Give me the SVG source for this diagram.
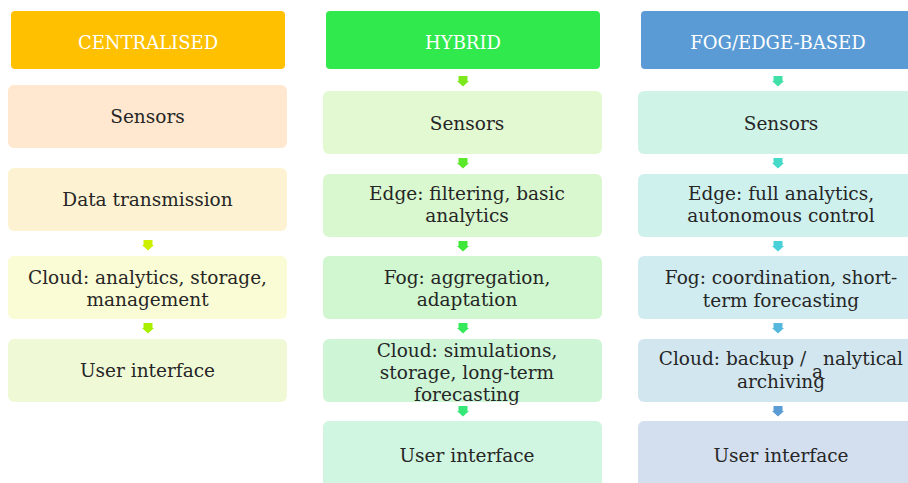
<svg xmlns="http://www.w3.org/2000/svg" xmlns:xlink="http://www.w3.org/1999/xlink" width="908" height="483" viewBox="0 0 908 483">
  <style>
    .hd { font-family: "DejaVu Serif", "Liberation Serif", serif; font-size: 18px; fill: #ffffff; text-anchor: middle; }
    .tx { font-family: "DejaVu Serif", "Liberation Serif", serif; font-size: 18.5px; fill: #262626; text-anchor: middle; }
  </style>
  <defs>
    <!-- small block arrow, tip at (0,10) -->
    <path id="arr" d="M-4.5 0 H4.5 V5 H6 L0 10.5 L-6 5 H-4.5 Z"/>
  </defs>
  <rect width="908" height="483" fill="#ffffff"/>

  <!-- column 1: centralised -->
  <g id="c1-head"><rect x="11" y="11" width="274" height="58" rx="4" fill="#FFC000"/><text class="hd" x="148" y="49">CENTRALISED</text></g>
  <g id="c1-sensors"><rect x="8" y="85" width="279" height="63" rx="6" fill="#FFE8CF"/><text class="tx" x="147.5" y="123">Sensors</text></g>
  <g id="c1-transmission"><rect x="8" y="168" width="279" height="63" rx="6" fill="#FDF3D2"/><text class="tx" x="147.5" y="206">Data transmission</text></g>
  <g id="c1-cloud"><rect x="8" y="256" width="279" height="63" rx="6" fill="#FAFCD5"/><text class="tx" x="147.5" y="284">Cloud: analytics, storage,</text><text class="tx" x="147.5" y="306">management</text></g>
  <g id="c1-ui"><rect x="8" y="339" width="279" height="63" rx="6" fill="#F0F9D5"/><text class="tx" x="147.5" y="377">User interface</text></g>

  <!-- column 2: hybrid -->
  <g id="c2-head"><rect x="326" y="11" width="274" height="58" rx="4" fill="#30E94D"/><text class="hd" x="463" y="49">HYBRID</text></g>
  <g id="c2-sensors"><rect x="323" y="91" width="279" height="63" rx="6" fill="#E3F9D2"/><text class="tx" x="467" y="130">Sensors</text></g>
  <g id="c2-edge"><rect x="323" y="174" width="279" height="63" rx="6" fill="#D9F8CF"/><text class="tx" x="467" y="200">Edge: filtering, basic</text><text class="tx" x="467" y="222">analytics</text></g>
  <g id="c2-fog"><rect x="323" y="256" width="279" height="63" rx="6" fill="#D0F7CF"/><text class="tx" x="467" y="284">Fog: aggregation,</text><text class="tx" x="467" y="306">adaptation</text></g>
  <g id="c2-cloud"><rect x="323" y="339" width="279" height="63" rx="6" fill="#CEF5D6"/><text class="tx" x="467" y="357">Cloud: simulations,</text><text class="tx" x="467" y="379">storage, long-term</text><text class="tx" x="467" y="401">forecasting</text></g>
  <g id="c2-ui"><rect x="323" y="421" width="279" height="70" rx="6" fill="#D0F5E0"/><text class="tx" x="467" y="462">User interface</text></g>

  <!-- column 3: fog/edge-based -->
  <g id="c3-head"><rect x="641" y="11" width="276" height="58" rx="4" fill="#5B9BD5"/><text class="hd" x="778" y="49">FOG/EDGE-BASED</text></g>
  <g id="c3-sensors"><rect x="638" y="91" width="279" height="63" rx="6" fill="#CFF3E6"/><text class="tx" x="781" y="130">Sensors</text></g>
  <g id="c3-edge"><rect x="638" y="174" width="279" height="63" rx="6" fill="#CFF1EE"/><text class="tx" x="781" y="200">Edge: full analytics,</text><text class="tx" x="781" y="222">autonomous control</text></g>
  <g id="c3-fog"><rect x="638" y="256" width="279" height="63" rx="6" fill="#D0ECF0"/><text class="tx" x="781" y="284">Fog: coordination, short-</text><text class="tx" x="781" y="307">term forecasting</text></g>
  <g id="c3-cloud"><rect x="638" y="339" width="279" height="63" rx="6" fill="#D2E6F0"/><text class="tx" x="732.5" y="365">Cloud: backup /</text><text class="tx" x="863" y="365">nalytical</text><text class="tx" x="817.5" y="378">a</text><text class="tx" x="781" y="388">archiving</text></g>
  <g id="c3-ui"><rect x="638" y="421" width="279" height="70" rx="6" fill="#D3DEEF"/><text class="tx" x="781" y="462">User interface</text></g>

  <!-- connectors -->
  <g id="connectors">
    <use xlink:href="#arr" x="148" y="240" fill="#CCF000"/>
    <use xlink:href="#arr" x="148" y="323" fill="#A8F000"/>

    <use xlink:href="#arr" x="463" y="76" fill="#7EE81F"/>
    <use xlink:href="#arr" x="463" y="158" fill="#5CE82A"/>
    <use xlink:href="#arr" x="463" y="241" fill="#3EE83A"/>
    <use xlink:href="#arr" x="463" y="323" fill="#36E95A"/>
    <use xlink:href="#arr" x="463" y="406" fill="#36E878"/>

    <use xlink:href="#arr" x="778" y="76" fill="#40E0A8"/>
    <use xlink:href="#arr" x="778" y="158" fill="#45D9C8"/>
    <use xlink:href="#arr" x="778" y="241" fill="#4AD0D8"/>
    <use xlink:href="#arr" x="778" y="323" fill="#55B8DC"/>
    <use xlink:href="#arr" x="778" y="406" fill="#5A9BD5"/>
  </g>
</svg>
